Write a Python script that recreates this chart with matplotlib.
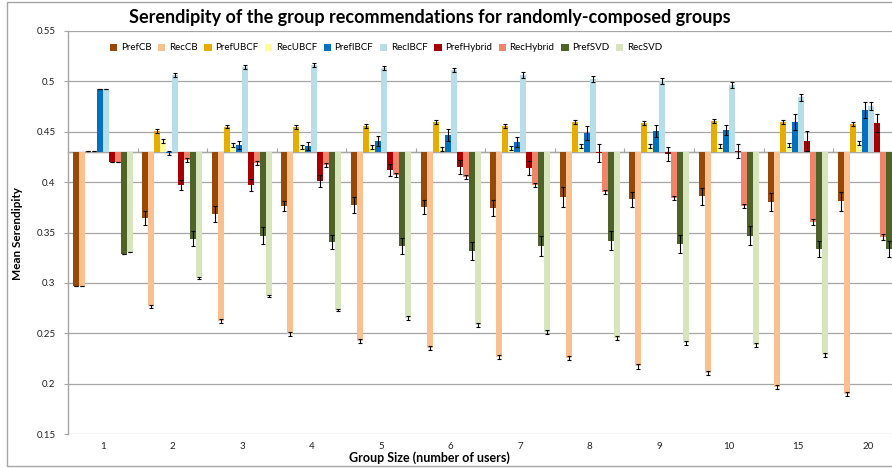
import matplotlib.pyplot as plt
import numpy as np
from matplotlib.patches import Patch, Rectangle

groups = ["1", "2", "3", "4", "5", "6", "7", "8", "9", "10", "15", "20"]
series = ["PrefCB", "RecCB", "PrefUBCF", "RecUBCF", "PrefIBCF", "RecIBCF",
          "PrefHybrid", "RecHybrid", "PrefSVD", "RecSVD"]
colors = ["#984807", "#FAC090", "#E6AC00", "#FFFF99", "#0070C0", "#B7DEE8",
          "#A80000", "#F0836A", "#4F6228", "#D8E4BC"]

pref_cb = [0.297, 0.364, 0.368, 0.376, 0.377, 0.375, 0.374, 0.385, 0.383, 0.386, 0.380, 0.381]
rec_cb = [0.297, 0.277, 0.262, 0.249, 0.242, 0.235, 0.226, 0.225, 0.217, 0.211, 0.197, 0.190]
pref_ubcf = [0.431, 0.451, 0.455, 0.455, 0.456, 0.460, 0.456, 0.460, 0.459, 0.461, 0.460, 0.458]
rec_ubcf = [0.431, 0.441, 0.437, 0.435, 0.435, 0.433, 0.434, 0.436, 0.436, 0.436, 0.437, 0.439]
pref_ibcf = [0.492, 0.429, 0.437, 0.436, 0.441, 0.447, 0.440, 0.449, 0.451, 0.452, 0.460, 0.472]
rec_ibcf = [0.492, 0.506, 0.514, 0.516, 0.513, 0.511, 0.506, 0.502, 0.500, 0.496, 0.484, 0.476]
pref_hybrid = [0.420, 0.397, 0.397, 0.401, 0.412, 0.415, 0.414, 0.429, 0.428, 0.431, 0.441, 0.459]
rec_hybrid = [0.420, 0.422, 0.419, 0.417, 0.407, 0.405, 0.397, 0.390, 0.384, 0.376, 0.360, 0.346]
pref_svd = [0.329, 0.344, 0.347, 0.341, 0.337, 0.332, 0.337, 0.342, 0.339, 0.347, 0.334, 0.334]
rec_svd = [0.331, 0.305, 0.287, 0.273, 0.265, 0.258, 0.251, 0.245, 0.240, 0.238, 0.228, 0.224]

err_pref_cb = [0.0, 0.007, 0.008, 0.005, 0.008, 0.007, 0.008, 0.010, 0.0075, 0.0085, 0.009, 0.0095]
err_rec_cb = [0.0, 0.0015, 0.002, 0.002, 0.002, 0.002, 0.002, 0.002, 0.002, 0.002, 0.002, 0.002]
err_pref_ubcf = [0.0, 0.002, 0.0015, 0.002, 0.002, 0.002, 0.002, 0.002, 0.002, 0.002, 0.002, 0.002]
err_rec_ubcf = [0.0, 0.002, 0.002, 0.002, 0.002, 0.002, 0.002, 0.002, 0.002, 0.002, 0.002, 0.002]
err_pref_ibcf = [0.0, 0.002, 0.004, 0.004, 0.005, 0.006, 0.005, 0.007, 0.006, 0.005, 0.008, 0.008]
err_rec_ibcf = [0.0, 0.002, 0.002, 0.002, 0.002, 0.002, 0.003, 0.003, 0.003, 0.003, 0.003, 0.004]
err_pref_hybrid = [0.0, 0.005, 0.006, 0.006, 0.006, 0.007, 0.007, 0.009, 0.007, 0.007, 0.010, 0.009]
err_rec_hybrid = [0.0, 0.002, 0.002, 0.002, 0.002, 0.002, 0.002, 0.002, 0.002, 0.002, 0.003, 0.003]
err_pref_svd = [0.0, 0.007, 0.008, 0.007, 0.008, 0.009, 0.010, 0.009, 0.009, 0.009, 0.008, 0.008]
err_rec_svd = [0.0, 0.001, 0.001, 0.001, 0.002, 0.002, 0.002, 0.002, 0.002, 0.002, 0.002, 0.002]

values = [pref_cb, rec_cb, pref_ubcf, rec_ubcf, pref_ibcf, rec_ibcf,
          pref_hybrid, rec_hybrid, pref_svd, rec_svd]
errors = [err_pref_cb, err_rec_cb, err_pref_ubcf, err_rec_ubcf, err_pref_ibcf, err_rec_ibcf,
          err_pref_hybrid, err_rec_hybrid, err_pref_svd, err_rec_svd]

baseline = 0.43
font = ["Lato", "DejaVu Sans"]
plt.rcParams["font.family"] = font

fig = plt.figure(figsize=(8.92, 4.68), dpi=100)
fig.patches.append(Rectangle((7 / 892, 2 / 468), 2.0, 464 / 468, transform=fig.transFigure,
                             fill=False, edgecolor="#a6a6a6", linewidth=1.0))
ax = fig.add_axes([68 / 892, 34 / 468, 834.6 / 892, 403 / 468])

x = np.arange(len(groups))
width = 0.0863
for i, (vals, errs, col) in enumerate(zip(values, errors, colors)):
    pos = x + (i - 4.5) * width
    vals = np.array(vals)
    ax.bar(pos, vals - baseline, width=width, bottom=baseline, color=col, linewidth=0, zorder=2)
    ax.errorbar(pos, vals, yerr=errs, fmt="none", ecolor="black", elinewidth=0.8,
                capsize=1.6, capthick=0.8, zorder=3)

ax.set_xlim(-0.5, len(groups) - 0.5)
ax.set_ylim(0.15, 0.55)
ax.set_yticks(np.arange(0.15, 0.551, 0.05))
ax.set_yticklabels(["0.15", "0.2", "0.25", "0.3", "0.35", "0.4", "0.45", "0.5", "0.55"])
ax.yaxis.grid(True, color="#a6a6a6", linewidth=0.9, zorder=0)
ax.set_axisbelow(True)
ax.set_xticks(x)
ax.set_xticklabels(groups)
ax.tick_params(axis="x", length=0, pad=6, labelsize=7, labelcolor="#222222")
ax.tick_params(axis="y", length=3, color="#a6a6a6", labelsize=7, labelcolor="#222222", pad=6)
for side in ["top", "right", "bottom"]:
    ax.spines[side].set_visible(False)
ax.spines["left"].set_color("#a6a6a6")
ax.spines["left"].set_linewidth(1.0)

# category axis crossing at the baseline value
ax.axhline(baseline, color="#a6a6a6", linewidth=0.9, zorder=1)
sec = ax.secondary_xaxis((baseline - 0.15) / 0.4)
sec.set_xticks(np.arange(len(groups) + 1) - 0.5)
sec.set_xticklabels([])
sec.tick_params(length=3, color="#a6a6a6", direction="out")
sec.spines["bottom"].set_visible(False)

handles = [Patch(facecolor=c, edgecolor="none") for c in colors]
fig.legend(handles, series, loc="center", bbox_to_anchor=(386 / 892, 1 - 48 / 468), ncol=10,
           frameon=False, fontsize=7, handlelength=0.75, handleheight=0.75,
           handletextpad=0.35, columnspacing=0.7)

fig.text(430 / 892, 1 - 18 / 468, "Serendipity of the group recommendations for randomly-composed groups",
         ha="center", va="center", fontsize=13, fontweight="bold")
fig.text(429 / 892, 1 - 458 / 468, "Group Size (number of users)", ha="center", va="center",
         fontsize=9, fontweight="bold")
fig.text(18 / 892, 1 - 233 / 468, "Mean Serendipity", ha="center", va="center",
         rotation=90, fontsize=8.5, fontweight="bold")

fig.savefig("out.png", dpi=100)
plt.close(fig)
